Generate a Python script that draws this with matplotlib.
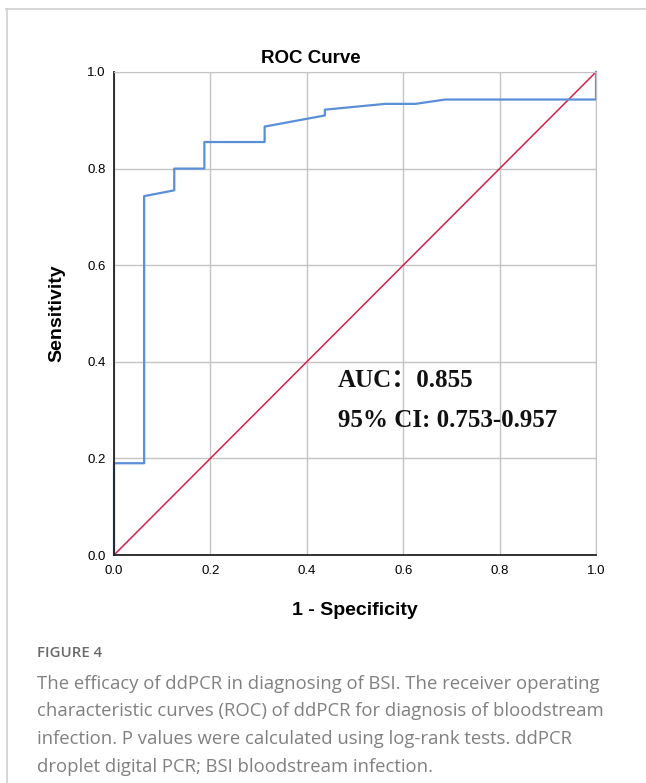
import matplotlib
matplotlib.use("Agg")
import matplotlib.pyplot as plt
from matplotlib.lines import Line2D

# ROC curve points
fpr = [0.0, 0.0, 0.0625, 0.0625, 0.125, 0.125, 0.1875, 0.1875, 0.3125, 0.3125,
       0.4375, 0.4375, 0.5625, 0.625, 0.6875, 1.0, 1.0]
tpr = [0.0, 0.19, 0.19, 0.743, 0.755, 0.8, 0.8, 0.855, 0.855, 0.887,
       0.91, 0.922, 0.934, 0.934, 0.943, 0.943, 1.0]
ref_line = [0.0, 1.0]
ticks = [0.0, 0.2, 0.4, 0.6, 0.8, 1.0]
auc_text = "AUC\uff1a0.855"
ci_text = "95% CI: 0.753-0.957"
caption_head = "FIGURE 4"
caption_lines = [
    "The efficacy of ddPCR in diagnosing of BSI. The receiver operating",
    "characteristic curves (ROC) of ddPCR for diagnosis of bloodstream",
    "infection. P values were calculated using log-rank tests. ddPCR",
    "droplet digital PCR; BSI bloodstream infection.",
]

W, H = 646, 783
fig = plt.figure(figsize=(W/100, H/100), dpi=100)
fig.patch.set_facecolor("white")

# outer frame of the figure panel
fig.add_artist(Line2D([6/W, 1.0], [1-9/H, 1-9/H], color="#d0d0d0", lw=1.2))
fig.add_artist(Line2D([7/W, 7/W], [0.0, 1-9/H], color="#d0d0d0", lw=1.2))

ax = fig.add_axes((114/W, 1-555/H, 482/W, 483/H))
ax.set_xlim(0, 1)
ax.set_ylim(0, 1)
ax.set_xticks(ticks)
ax.set_yticks(ticks)
ax.set_xticklabels(["%.1f" % t for t in ticks], fontsize=9.5, family="Liberation Sans")
ax.set_yticklabels(["%.1f" % t for t in ticks], fontsize=9.5, family="Liberation Sans")
ax.tick_params(axis="y", length=0, pad=6)
ax.tick_params(axis="x", length=0, pad=7)
ax.grid(True, color="#c4c4c4", lw=1.0)
ax.set_axisbelow(True)
for s in ["top", "right"]:
    ax.spines[s].set_color("#c4c4c4")
for s in ["left", "bottom"]:
    ax.spines[s].set_color("#222222")
    ax.spines[s].set_linewidth(1.3)

ax.plot(ref_line, ref_line, color="#d61f4a", lw=1.1)
ax.plot(fpr, tpr, color="#5a8fd8", lw=1.6, clip_on=False)

ax.text(0.4647, 0.3485, auc_text, fontsize=18, fontweight="bold",
        family=["Liberation Serif", "Noto Sans CJK SC"], color="#111111")
ax.text(0.4647, 0.2656, ci_text, fontsize=18, fontweight="bold",
        family="Liberation Serif", color="#111111")

fig.text(311/W, 1-63/H, "ROC Curve", fontsize=13.5, fontweight="bold",
         family="Liberation Sans", ha="center", va="baseline")
ax.set_xlabel("1 - Specificity", fontsize=14, fontweight="bold",
              family="Liberation Sans", va="baseline")
ax.xaxis.set_label_coords(0.5, (555-615)/483)
ax.set_ylabel("Sensitivity", fontsize=14, fontweight="bold",
              family="Liberation Sans", va="center")
ax.yaxis.set_label_coords((57-114)/482, 0.5)

fig.text(37/W, 1-657/H, caption_head, fontsize=10.8, color="#6a6a6a",
         family="Open Sans", fontweight="semibold", va="baseline")
base = 689
for i, line in enumerate(caption_lines):
    fig.text(37/W, 1-(base + 27.5*i)/H, line, fontsize=13.3, color="#808080",
             family="Open Sans", va="baseline")

fig.savefig("out.png", dpi=100, facecolor="white")
